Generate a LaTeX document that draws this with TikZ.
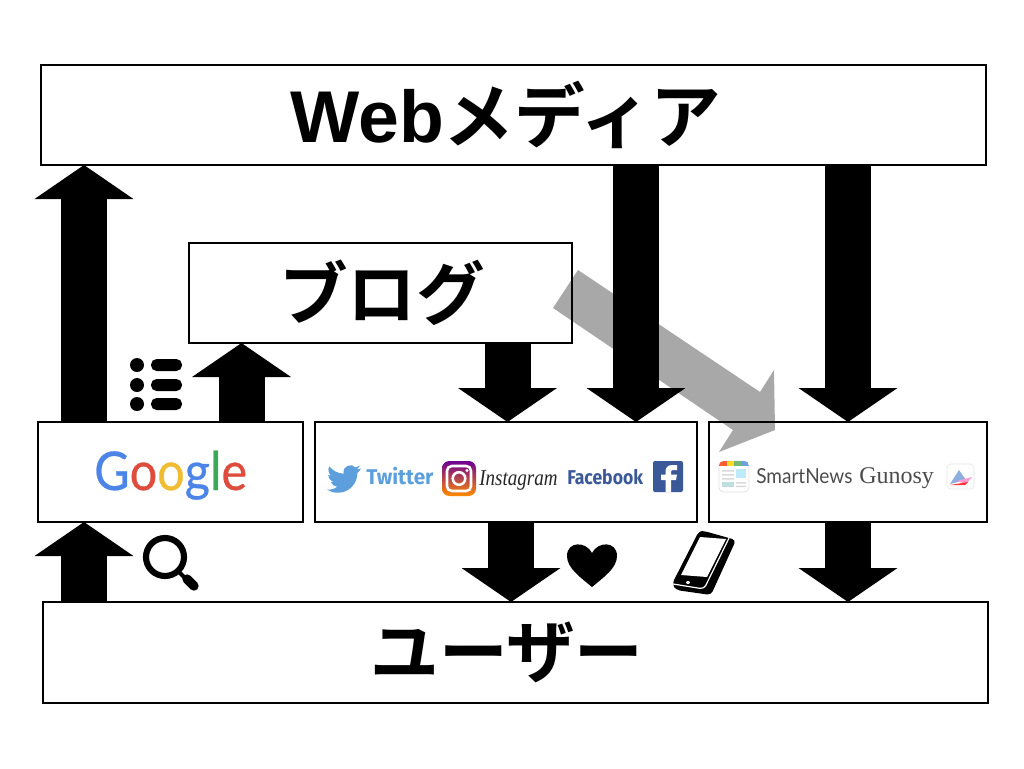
\documentclass[tikz,border=0pt]{standalone}
\usepackage{fontspec}
\usepackage{graphicx}
\usetikzlibrary{arrows.meta}
\setmainfont{Noto Sans CJK JP}
\newfontfamily\jpbold{Noto Sans CJK JP Bold}
\newfontfamily\lgbold{Liberation Sans Bold}
\newfontfamily\gfont[FakeBold=0.5]{Lato}
\newfontfamily\lserif{Liberation Serif}
\newfontfamily\lsans{Lato}
\newfontfamily\fira{Fira Sans}
\definecolor{fbblue}{HTML}{3B5998}
\definecolor{twblue}{HTML}{5C9FDC}
\definecolor{gblue}{HTML}{4C84E8}
\definecolor{gred}{HTML}{DD4C3C}
\definecolor{gyellow}{HTML}{F0BC32}
\definecolor{ggreen}{HTML}{3DA85A}
\definecolor{ghost}{HTML}{A8A8A8}
\tikzset{
  x=0.75pt,y=-0.75pt,
  panel/.style={draw=black,line width=2.1pt,inner sep=0pt,outer sep=0pt,anchor=north west,align=center},
  title/.style={font=\jpbold\fontsize{51.5}{51.5}\selectfont,inner sep=0pt},
  bigarrow/.style={line width=34.5pt,line cap=butt,-{Triangle[length=25.5pt,width=73pt]}},
  label/.style={inner sep=0pt,anchor=base west},
}
\begin{document}
\begin{tikzpicture}
\useasboundingbox (0,0) rectangle (1024,768);
\fill[white] (0,0) rectangle (1024,768);
% grey arrow behind everything
\fill[ghost] (578,270) -- (760,392) -- (774,370) -- (775,430) -- (719,452) -- (733,430) -- (553,308) -- cycle;
% boxes
\node[panel,minimum width=708.75pt,minimum height=75pt] (web) at (41,65) {};
\node[panel,minimum width=287.25pt,minimum height=75pt] (blog) at (189,243) {};
\node[panel,minimum width=198.75pt,minimum height=75pt] (google) at (38,422) {};
\node[panel,minimum width=286.5pt,minimum height=75pt] (social) at (315,422) {};
\node[panel,minimum width=208.5pt,minimum height=75pt] (news) at (709,422) {};
\node[panel,minimum width=708.75pt,minimum height=75.75pt] (user) at (43,602) {};
\node[title] (webt) at (506,115) {{\lgbold\fontsize{55}{55}\selectfont Web}\fontsize{53}{53}\selectfont メディア};
\node[title] (blogt) at (382,293) {ブログ};
\node[title] (usert) at (507,652) {ユーザー};
% columns
\coordinate (c1) at (84,0);
\coordinate (c2) at (241.5,0);
\coordinate (c3) at (507.5,0);
\coordinate (c4) at (636,0);
\coordinate (c5) at (848,0);
\coordinate (c6) at (511,0);
% connectors
\draw[bigarrow] (google.north -| c1) -- (web.south -| c1);
\draw[bigarrow] (google.north -| c2) -- (blog.south -| c2);
\draw[bigarrow] (blog.south -| c3) -- (social.north -| c3);
\draw[bigarrow] (web.south -| c4) -- (social.north -| c4);
\draw[bigarrow] (web.south -| c5) -- (news.north -| c5);
\draw[bigarrow] (user.north -| c1) -- (google.south -| c1);
\draw[bigarrow] (social.south -| c6) -- (user.north -| c6);
\draw[bigarrow] (news.south -| c5) -- (user.north -| c5);
% list icon
\foreach \yy in {365,385,404}{
  \fill (137,\yy) circle[radius=7];
  \fill[rounded corners=4.2pt] (151,\yy-6) rectangle (182,\yy+6);
}
% magnifier
\draw[line width=4.6pt] (165,557) circle[radius=19];
\draw[line width=3pt] (178,571) -- (186,579);
\draw[line width=7pt,line cap=round] (187,579) -- (194,586);
% google
\node[label,font=\gfont\fontsize{40}{40}\selectfont] (goog) at (94,490) {\scalebox{.91}[1]{\textcolor{gblue}{G}\textcolor{gred}{o}\textcolor{gyellow}{o}\textcolor{gblue}{g}\textcolor{ggreen}{l}\textcolor{gred}{e}}};
% twitter bird
\begin{scope}[shift={(327,462)},x=1.06pt,y=-1.06pt]
\fill[twblue] (23.95,4.57) -- (21.13,5.35) -- (23.29,2.62) -- (20.16,3.81)
 .. controls (17.5,0.6) and (10.6,2.6) .. (11.78,8.29)
 .. controls (7.69,8.1) and (4.07,6.13) .. (1.64,3.16)
 .. controls (0.3,5.5) and (1.2,8.4) .. (3.16,9.73) -- (0.93,9.11)
 .. controls (0.9,11.5) and (2.6,13.5) .. (4.88,14) -- (2.67,14.08)
 .. controls (3.4,16) and (5.2,17.4) .. (7.27,17.5)
 .. controls (5.6,18.8) and (3,19.9) .. (0,19.54)
 .. controls (2.2,21) and (4.8,21.75) .. (7.54,21.75)
 .. controls (16.6,21.75) and (21.54,14.25) .. (21.54,7.77)
 .. controls (22.5,7) and (23.4,5.9) .. (23.95,4.57) -- cycle;
\end{scope}
\node[label,font=\fira\bfseries\fontsize{16}{16}\selectfont,text=twblue] (tw) at (366,484) {\scalebox{.97}[1]{Twitter}};
% instagram icon
\shade[rounded corners=5.5pt,top color=violet!85!blue,middle color=red!70!magenta!90!black,bottom color=orange!90!yellow] (442,461) rectangle (476,496);
\draw[white,line width=1.9pt,rounded corners=3.6pt] (447,466) rectangle (471,491);
\draw[white,line width=1.9pt] (459,478.5) circle[radius=6.3];
\fill[white] (467,470.5) circle[radius=1.6];
\node[label,text=black!85] (ig) at (479,485) {\lserif\itshape\fontsize{17}{17}\selectfont\scalebox{.84}[1]{Instagram}};
\node[label,font=\fira\bfseries\fontsize{15}{15}\selectfont,text=fbblue] (fb) at (567,484) {\scalebox{.88}[1]{Facebook}};
% facebook icon
\fill[fbblue,rounded corners=1.5pt] (653,461) rectangle (683,492);
\fill[white] (671,492) -- (671,480) -- (676,480) -- (677,474.5) -- (671,474.5) -- (671,472)
 .. controls (671,470.5) and (672,470) .. (673,470) -- (677,470) -- (677,465)
 -- (672,465) .. controls (667.5,465) and (665.5,468) .. (665.5,471.5) -- (665.5,474.5)
 -- (661,474.5) -- (661,480) -- (665.5,480) -- (665.5,492) -- cycle;
% smartnews icon
\draw[black!12,line width=.5pt,rounded corners=3.5pt] (719,461) rectangle (749,492);
\begin{scope}
\clip[rounded corners=3.5pt] (719,461) rectangle (749,492);
\fill[red!60!orange!80] (719,461) rectangle (727,466);
\fill[yellow!70!orange!85] (727,461) rectangle (734,466);
\fill[green!50!black!55] (734,461) rectangle (741,466);
\fill[cyan!60!blue!60] (741,461) rectangle (749,466);
\end{scope}
\fill[black!15] (722,470) rectangle (734,471.5) (722,474) rectangle (734,475.5) (722,478) rectangle (734,479.5);
\fill[cyan!25] (735.5,469) rectangle (746,478);
\fill[teal!25] (722,482) rectangle (734,486.5);
\fill[black!15] (736,482) rectangle (746,483.5) (736,485.5) rectangle (746,487);
\node[label,font=\lsans\fontsize{15.5}{15.5}\selectfont,text=black!70] (sn) at (756,483) {\scalebox{.92}[1]{SmartNews}};
\node[label,font=\lserif\fontsize{18}{18}\selectfont,text=black!70] (gu) at (859,483) {Gunosy};
% gunosy icon
\draw[black!10,line width=.4pt,rounded corners=3pt] (947,464) rectangle (974,489);
\fill[cyan!50!blue!45] (950,484) -- (959,470) -- (966,480) -- cycle;
\fill[red!45!magenta!40] (957,481) -- (972,477) -- (966,484) -- cycle;
\fill[red!80] (950,485) -- (968,482) -- (965,485) -- cycle;
% heart
\fill (592,587) .. controls (580,577) and (567,568) .. (567,556)
 .. controls (567,541) and (586,541) .. (592,553)
 .. controls (598,541) and (617,541) .. (617,556)
 .. controls (617,568) and (604,577) .. (592,587) -- cycle;
% phone
\fill[rounded corners=3pt] (704,531) -- (736,540) -- (711,595) -- (676,590) -- (672,584) -- (699,531) -- cycle;
\draw[white,line width=.9pt,rounded corners=3pt] (731,534) -- (704,589) -- (673,584);
\fill[white] (700,537) -- (726,539) -- (707,577) -- (681,575) -- cycle;
\fill[white] (688,582.5) ellipse[x radius=2,y radius=1.5];
\end{tikzpicture}
\end{document}
